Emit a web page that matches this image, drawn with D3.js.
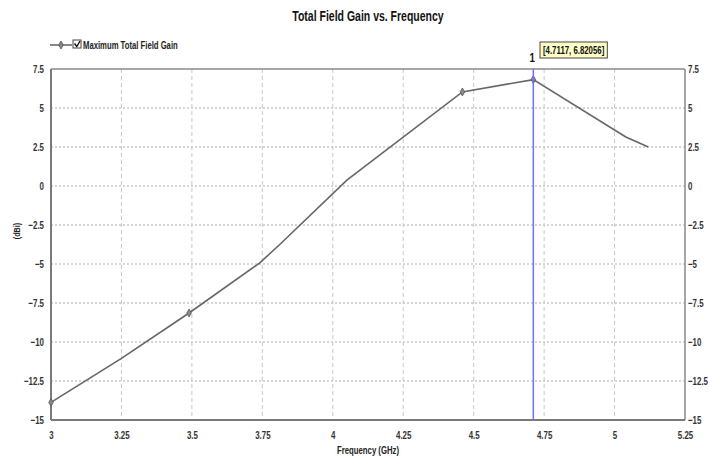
<!DOCTYPE html>
<html>
<head>
<meta charset="utf-8">
<script src="https://cdn.jsdelivr.net/npm/d3@7"></script>
<style>
  html, body { margin: 0; padding: 0; background: #fff; }
  svg { display: block; }
  text { font-family: "Liberation Sans", Arial, sans-serif; }
</style>
</head>
<body>
<svg id="chart" width="708" height="458"></svg>
<script>
// Sweep data: frequency (GHz) vs maximum total field gain (dBi)
const freqs = [3.0, 3.25, 3.49, 3.74, 3.81, 4.05, 4.46, 4.7117, 5.04, 5.12];
const gains = [-13.87, -11.05, -8.14, -4.94, -3.78, 0.38, 6.03, 6.82056, 3.14, 2.5];
// Points that carry a symbol on the trace
const symbolFreqs = [3.0, 3.49, 4.46, 4.7117];
// Marker readout
const markerName = "1";
const markerFreq = 4.7117;
const markerGain = 6.82056;

const xTicks = [3, 3.25, 3.5, 3.75, 4, 4.25, 4.5, 4.75, 5, 5.25];
const yTicks = [7.5, 5, 2.5, 0, -2.5, -5, -7.5, -10, -12.5, -15];

const titleText = "Total Field Gain vs. Frequency";
const legendText = "Maximum Total Field Gain";
const xLabel = "Frequency (GHz)";
const yLabel = "(dBi)";

const svg = d3.select("#chart");
const plotL = 51, plotR = 685, plotT = 69, plotB = 420;

// Squeeze text horizontally about its anchor x to give a narrow typeface look
function condense(sel, k) {
  sel.each(function () {
    const t = d3.select(this);
    const ax = +(t.attr("x") || 0);
    const prev = t.attr("transform") || "";
    t.attr("transform", `${prev} translate(${ax},0) scale(${k},1) translate(${-ax},0)`);
  });
  return sel;
}

const x = d3.scaleLinear().domain([3, 5.25]).range([plotL, plotR]);
const y = d3.scaleLinear().domain([-15, 7.5]).range([plotB, plotT]);

// Grid
const grid = svg.append("g");
grid.selectAll("line.v").data(xTicks.slice(1, -1)).join("line")
  .attr("x1", d => x(d)).attr("x2", d => x(d))
  .attr("y1", plotT).attr("y2", plotB)
  .attr("stroke", "#c8c8c8").attr("stroke-width", 1)
  .attr("stroke-dasharray", "4,3");
grid.selectAll("line.h").data(yTicks.slice(1, -1)).join("line")
  .attr("x1", plotL).attr("x2", plotR)
  .attr("y1", d => y(d)).attr("y2", d => y(d))
  .attr("stroke", "#c8c8c8").attr("stroke-width", 1.3)
  .attr("stroke-dasharray", "2,2");

// Frame
svg.append("line").attr("x1", plotL).attr("x2", plotR).attr("y1", plotT).attr("y2", plotT)
  .attr("stroke", "#8a8a8a").attr("stroke-width", 1.5);
svg.append("line").attr("x1", plotR).attr("x2", plotR).attr("y1", plotT).attr("y2", plotB)
  .attr("stroke", "#8a8a8a").attr("stroke-width", 1.5);
svg.append("line").attr("x1", plotL).attr("x2", plotR).attr("y1", plotB).attr("y2", plotB)
  .attr("stroke", "#7a7a7a").attr("stroke-width", 2);
svg.append("line").attr("x1", plotL).attr("x2", plotL).attr("y1", plotT).attr("y2", plotB)
  .attr("stroke", "#7a7a7a").attr("stroke-width", 2);

// Axes (labels only)
const axisL = d3.axisLeft(y).tickValues(yTicks).tickSize(0).tickPadding(7)
  .tickFormat(d3.format("~g"));
const axisR = d3.axisRight(y).tickValues(yTicks).tickSize(0).tickPadding(3)
  .tickFormat(d3.format("~g"));
const axisB = d3.axisBottom(x).tickValues(xTicks).tickSize(0).tickPadding(11)
  .tickFormat(d3.format("~g"));

function styleAxis(g) {
  g.select(".domain").remove();
  g.selectAll("text").attr("font-size", 11).attr("fill", "#333").attr("font-weight", "bold");
  condense(g.selectAll("text"), 0.72);
}
svg.append("g").attr("transform", `translate(${plotL},0)`).call(axisL).call(styleAxis);
svg.append("g").attr("transform", `translate(${plotR},0)`).call(axisR).call(styleAxis);
svg.append("g").attr("transform", `translate(0,${plotB})`).call(axisB).call(styleAxis);

// Trace
const data = freqs.map((f, i) => ({ f, g: gains[i] }));
const line = d3.line().x(d => x(d.f)).y(d => y(d.g));
svg.append("path").datum(data).attr("d", line)
  .attr("fill", "none").attr("stroke", "#666").attr("stroke-width", 1.6);

const diamond = d3.symbol().type(d3.symbolDiamond).size(18);
svg.selectAll("path.sym").data(data.filter(d => symbolFreqs.includes(d.f))).join("path")
  .attr("class", "sym")
  .attr("d", diamond)
  .attr("transform", d => `translate(${x(d.f)},${y(d.g)})`)
  .attr("fill", "#888").attr("stroke", "#555").attr("stroke-width", 0.8);

// Marker
const mx = x(markerFreq);
svg.append("line").attr("x1", mx).attr("x2", mx).attr("y1", plotT).attr("y2", plotB)
  .attr("stroke", "#7070ff").attr("stroke-width", 1.5);
svg.append("text").attr("x", mx - 1).attr("y", 62).attr("text-anchor", "middle")
  .attr("font-size", 13).attr("font-weight", "bold").attr("fill", "#111").text(markerName)
  .call(condense, 0.75);
const boxG = svg.append("g");
const readout = boxG.append("text").attr("x", 543).attr("y", 54)
  .attr("font-size", 11.5).attr("font-weight", "bold").attr("fill", "#111")
  .text(`[${markerFreq}, ${markerGain}]`);
const rw = readout.node().getComputedTextLength() * 0.68;
readout.call(condense, 0.68);
boxG.insert("rect", "text")
  .attr("x", 540).attr("y", 42).attr("width", rw + 6).attr("height", 16)
  .attr("fill", "#ffffc8").attr("stroke", "#444").attr("stroke-width", 1);

// Title
svg.append("text").attr("x", 368).attr("y", 21).attr("text-anchor", "middle")
  .attr("font-size", 14).attr("font-weight", "bold").attr("fill", "#111").text(titleText)
  .call(condense, 0.75);

// Legend
const lg = svg.append("g");
lg.append("line").attr("x1", 50).attr("x2", 72).attr("y1", 45).attr("y2", 45)
  .attr("stroke", "#555").attr("stroke-width", 1.4);
lg.append("path").attr("d", diamond).attr("transform", "translate(61,45)")
  .attr("fill", "#888").attr("stroke", "#555").attr("stroke-width", 0.8);
lg.append("rect").attr("x", 73).attr("y", 40).attr("width", 8).attr("height", 8)
  .attr("fill", "#fff").attr("stroke", "#444").attr("stroke-width", 1);
lg.append("path").attr("d", "M74.5,43.5 L76.8,46.5 L80,41")
  .attr("fill", "none").attr("stroke", "#111").attr("stroke-width", 1.4);
lg.append("text").attr("x", 83).attr("y", 49).attr("font-size", 11)
  .attr("font-weight", "bold").attr("fill", "#222").text(legendText)
  .call(condense, 0.7);

// Axis titles
svg.append("text").attr("x", 368).attr("y", 454).attr("text-anchor", "middle")
  .attr("font-size", 10.5).attr("font-weight", "bold").attr("fill", "#222").text(xLabel)
  .call(condense, 0.74);
svg.append("text").attr("x", 0).attr("y", 0)
  .attr("transform", "translate(20,231) rotate(-90)")
  .attr("text-anchor", "middle").attr("font-size", 9).attr("font-weight", "bold")
  .attr("fill", "#222").text(yLabel)
  .call(condense, 0.8);
</script>
</body>
</html>
